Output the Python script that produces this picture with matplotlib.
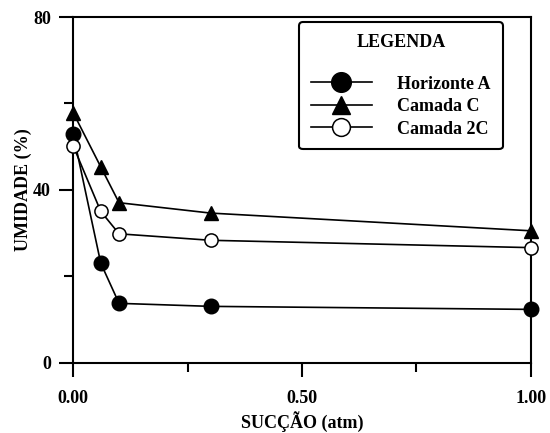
import matplotlib
matplotlib.use("Agg")
import matplotlib.pyplot as plt
from matplotlib.ticker import MultipleLocator, FuncFormatter

plt.rcParams["font.family"] = ["Liberation Serif", "DejaVu Serif"]
plt.rcParams["font.weight"] = "bold"

# values
succao = [0.0, 0.06, 0.10, 0.30, 1.00]
horizonte_a = [52.8, 23.0, 13.7, 13.0, 12.3]
camada_c = [57.8, 45.3, 37.0, 34.6, 30.5]
camada_2c = [50.1, 35.0, 29.8, 28.3, 26.6]

labels = ["Horizonte A", "Camada C", "Camada 2C"]

fig = plt.figure(figsize=(5.5, 4.33), dpi=100)
ax = fig.add_axes([0.1333, 0.1628, 0.8316, 0.7979])

ax.plot(succao, horizonte_a, color="black", lw=1.2, marker="o", ms=10.5,
        mfc="black", mec="black", label=labels[0], clip_on=False, zorder=3)
ax.plot(succao, camada_c, color="black", lw=1.2, marker="^", ms=10,
        mfc="black", mec="black", label=labels[1], clip_on=False, zorder=3)
ax.plot(succao, camada_2c, color="black", lw=1.2, marker="o", ms=9.5,
        mfc="white", mec="black", mew=1.1, label=labels[2], clip_on=False, zorder=3)

ax.set_xlim(0, 1.0)
ax.set_ylim(0, 80)
ax.xaxis.set_major_locator(MultipleLocator(0.5))
ax.xaxis.set_minor_locator(MultipleLocator(0.25))
ax.yaxis.set_major_locator(MultipleLocator(40))
ax.yaxis.set_minor_locator(MultipleLocator(20))
ax.xaxis.set_major_formatter(FuncFormatter(lambda v, p: f"{v:.2f}"))
ax.yaxis.set_major_formatter(FuncFormatter(lambda v, p: f"{v:.0f}"))

ax.tick_params(which="major", direction="out", length=10, width=1.5,
               labelsize=13)
ax.tick_params(which="minor", direction="out", length=6.5, width=1.5)
ax.tick_params(axis="x", which="major", pad=10)
ax.tick_params(axis="y", which="major", pad=6)
for lab in ax.get_xticklabels() + ax.get_yticklabels():
    lab.set_fontweight("bold")

for sp in ax.spines.values():
    sp.set_linewidth(1.5)

ax.set_xlabel("SUCÇÃO (atm)", fontsize=13, fontweight="bold", labelpad=3)
ax.set_ylabel("UMIDADE (%)", fontsize=13, fontweight="bold", labelpad=1)

leg = ax.legend(loc="upper left", bbox_to_anchor=(0.4934, 0.9855),
                title="LEGENDA", fancybox=True, framealpha=1,
                edgecolor="black", prop={"size": 13, "weight": "bold"},
                title_fontproperties={"size": 13, "weight": "bold"},
                markerscale=1.35, handlelength=3.4, labelspacing=0.3,
                borderpad=0.65, handletextpad=1.4, borderaxespad=0)
leg.get_frame().set_linewidth(1.5)
leg._legend_box.sep = 18

fig.savefig("out.png", dpi=100)
